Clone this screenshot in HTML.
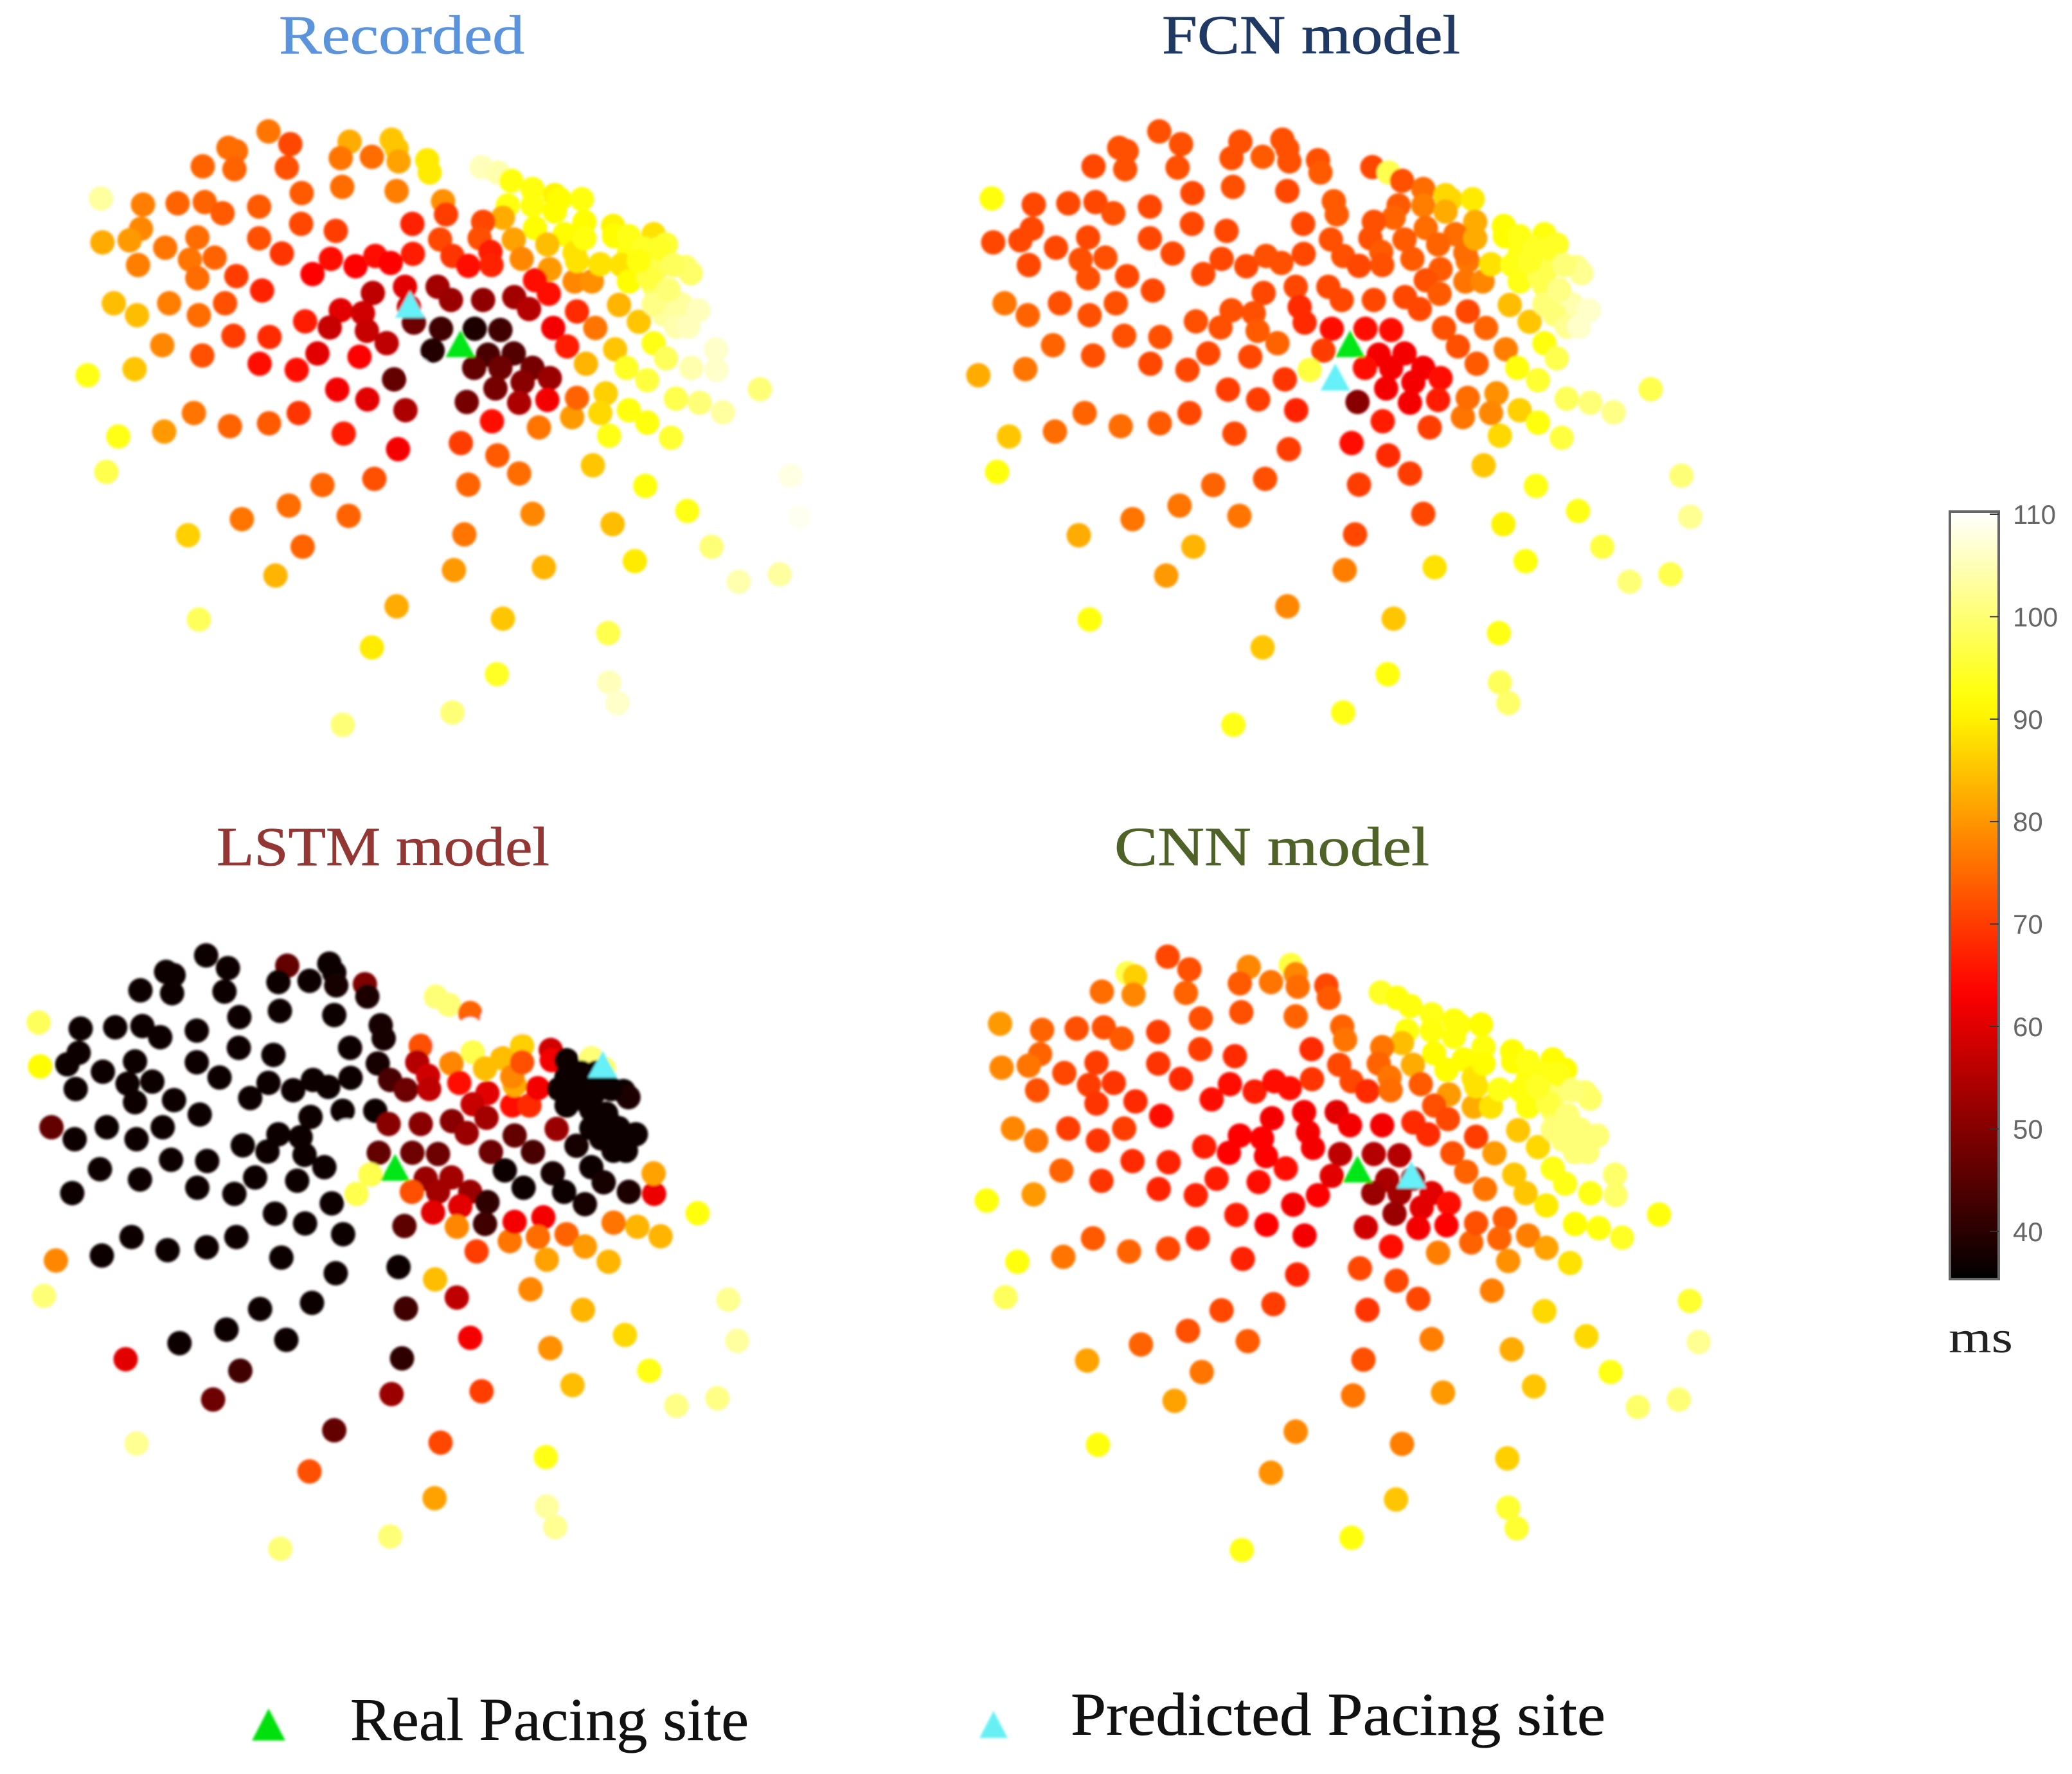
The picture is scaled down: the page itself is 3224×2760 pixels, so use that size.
<!DOCTYPE html>
<html lang="en">
<head>
<meta charset="utf-8">
<title>Pacing site activation maps</title>
<style>
html,body{margin:0;padding:0;background:#fff;}
svg{display:block;}
text{font-family:"Liberation Serif",serif;}
.tick{font-family:"Liberation Sans",sans-serif;font-size:42px;fill:#666;}
</style>
</head>
<body>
<svg id="chart" xmlns="http://www.w3.org/2000/svg" width="3224" height="2760" viewBox="0 0 3224 2760">
<defs>
<linearGradient id="hotGradient" x1="0" y1="1" x2="0" y2="0"></linearGradient>
<filter id="soft" x="-5%" y="-5%" width="110%" height="110%"><feGaussianBlur stdDeviation="1.8"/></filter>
</defs>
<rect width="3224" height="2760" fill="#fff"/>
<text x="434" y="83" font-size="86" fill="#5b93dc" stroke="#5b93dc" stroke-width="0.8" textLength="382" lengthAdjust="spacingAndGlyphs">Recorded</text>
<text x="1808" y="83" font-size="86" fill="#1f3864" stroke="#1f3864" stroke-width="0.8" textLength="464" lengthAdjust="spacingAndGlyphs">FCN model</text>
<text x="337" y="1346" font-size="86" fill="#943634" stroke="#943634" stroke-width="0.8" textLength="518" lengthAdjust="spacingAndGlyphs">LSTM model</text>
<text x="1734" y="1346" font-size="86" fill="#4f6228" stroke="#4f6228" stroke-width="0.8" textLength="490" lengthAdjust="spacingAndGlyphs">CNN model</text>
<g id="panels" filter="url(#soft)"></g>
<g id="colorbar"></g>
<text x="3032" y="2104" font-size="70" fill="#222" textLength="100" lengthAdjust="spacingAndGlyphs">ms</text>
<polygon points="418,2658 392,2708 444,2708" fill="#00e010" filter="url(#soft)"/>
<text x="545" y="2707" font-size="94" fill="#111" stroke="#111" stroke-width="0.6" textLength="620" lengthAdjust="spacingAndGlyphs">Real Pacing site</text>
<polygon points="1546,2662 1524,2704 1568,2704" fill="#66f0f4" filter="url(#soft)"/>
<text x="1666" y="2699" font-size="94" fill="#111" stroke="#111" stroke-width="0.6" textLength="832" lengthAdjust="spacingAndGlyphs">Predicted Pacing site</text>
</svg>
<script>
const electrodeX=[
421,465,340,355,352,458,288,585,567,630,
670,680,684,742,747,852,885,912,955,488,
570,680,82,167,237,292,328,402,774,780,
905,895,855,955,1000,1010,1055,1000,1060,960,
1020,1118,1200,1120,1225,1150,487,557,712,163,
140,85,277,402,212,448,547,510,597,637,
668,713,768,793,825,848,870,872,917,933,
157,262,312,277,356,408,632,697,763,790,
855,918,948,990,960,988,1040,1075,1045,1092,
1130,1045,1082,997,1025,1063,1122,1170,1200,1225,
1145,1187,1276,1327,1326,1135,1150,1200,1205,1265,
1275,1235,1255,1220,1245,1290,1150,1180,1210,1240,
1190,1200,1170,1270,1230,108,155,220,280,333,
495,350,423,567,545,612,620,660,705,715,
770,838,890,753,725,675,865,917,837,890,
955,990,880,935,985,928,822,873,968,1035,
1045,1103,1092,1150,1187,1110,1235,1245,1293,1340,
1415,1477,1495,1455,1372,1317,1268,1183,1077,1117,
1162,978,955,928,884,810,825,817,796,680,
895,1108,883,1110,1127,793,571,630,435,490,
583,462,530,635,367,258,280,93,117,210,
270,343,422,482,573,683,698,621,560,478,
403,520,605,287,206,150,55,985,1040,1060];
const electrodeY=[
85,116,125,133,177,173,170,110,150,147,
105,127,158,155,185,172,185,205,225,235,
220,230,248,263,260,257,284,268,255,287,
265,295,305,265,240,250,250,280,305,320,
335,315,335,340,360,380,310,327,310,322,
350,355,343,345,368,382,395,432,413,388,
405,383,348,388,412,345,378,410,348,395,
410,397,392,442,437,472,478,463,463,495,
495,488,517,420,447,480,450,450,400,408,
507,523,563,563,608,650,615,548,600,637,
660,690,660,665,615,410,450,460,420,415,
430,490,505,530,560,520,340,370,370,410,
440,505,400,560,470,503,532,503,532,503,
547,582,585,520,562,527,570,600,512,550,
565,565,568,618,665,688,628,625,660,660,
660,685,710,695,738,745,743,790,805,780,
733,722,770,763,793,825,830,735,745,768,
712,922,1022,1162,1180,1095,1008,947,897,1040,
1130,1145,1015,917,873,843,944,1065,1152,1240,
1270,1305,1405,1425,1475,1498,1528,1340,1165,1095,
1020,995,945,930,1028,1067,1272,913,827,815,
770,802,795,770,820,858,763,737,713,665,
650,625,633,630,605,663,678,360,380,345];
const recordedMs=[
76,71,75,75,74,72,74,82,76,75,
85,85,81,89,89,105,104,92,92,73,
75,77,103,77,74,74,73,73,79,70,
92,82,71,92,90,91,92,91,91,91,
91,90,88,91,95,92,71,70,67,78,
80,82,75,72,76,69,65,63,63,64,
63,66,71,69,65,72,66,67,81,78,
77,76,74,75,70,67,56,60,53,52,
51,53,55,80,64,65,78,79,88,88,
83,68,76,62,66,83,85,85,93,98,
94,96,104,106,106,88,91,98,97,99,
99,101,103,103,104,105,93,94,94,98,
96,101,92,105,100,84,84,77,75,72,
66,70,68,60,57,58,57,56,58,47,
42,38,42,39,110,46,43,44,46,47,
48,52,48,50,62,54,48,65,76,80,
74,86,87,92,92,93,95,97,100,103,
100,108,109,103,104,100,93,92,85,84,
89,83,78,75,73,70,74,76,80,82,
85,97,94,105,106,100,100,89,83,74,
74,75,74,72,76,86,98,97,93,80,
76,74,73,69,66,62,54,60,62,65,
65,60,63,72,78,85,93,84,88,92];
const fcnMs=[
72,72,72,72,72,72,71,72,72,73,
72,72,72,72,73,71,97,72,75,71,
72,71,92,71,71,71,72,71,73,73,
73,74,72,77,87,87,89,82,82,75,
75,91,92,91,94,93,71,71,71,71,
71,71,71,71,71,71,71,71,71,72,
72,71,72,72,71,72,73,72,73,73,
71,72,72,72,71,71,71,71,71,71,
71,71,71,73,72,73,76,78,76,88,
84,71,74,72,72,73,77,85,92,97,
92,95,110,110,110,93,93,97,97,101,
102,102,104,100,102,106,93,94,94,100,
97,100,94,106,101,76,74,72,72,72,
72,72,72,72,72,72,73,74,68,68,
65,64,64,70,96,69,62,62,65,62,
62,64,62,62,66,62,50,66,70,76,
75,79,78,86,92,87,96,98,100,101,
97,100,102,97,100,96,93,93,85,90,
92,88,71,70,68,65,70,71,77,78,
85,93,92,98,99,93,93,85,80,83,
76,76,74,72,76,82,92,92,85,75,
74,75,73,71,71,70,67,70,70,71,
71,71,71,72,74,76,82,74,75,82];
const lstmMs=[
36,36,36,36,36,36,36,46,36,36,
36,36,37,49,38,110,100,100,74,36,
36,36,98,36,36,36,36,36,37,37,
110,110,72,110,110,110,110,110,86,97,
84,58,100,62,98,36,36,36,36,36,
36,91,36,36,36,36,36,36,36,36,
36,36,37,43,47,55,58,56,78,64,
36,36,36,36,36,36,36,36,36,50,
50,50,52,60,57,53,64,68,82,62,
52,46,43,47,36,36,37,37,36,37,
36,37,38,61,81,36,36,36,36,36,
38,36,36,36,36,36,36,36,36,36,
36,36,36,36,36,46,36,36,36,36,
36,36,36,36,36,36,36,36,110,110,
46,47,47,97,97,36,52,53,72,53,
52,40,60,60,42,78,45,110,70,76,
62,62,75,74,80,81,83,76,83,83,
92,102,103,101,101,93,87,83,78,79,
84,70,62,56,84,36,42,40,52,46,
71,93,81,103,102,100,100,72,47,42,
36,36,36,36,36,60,102,100,78,36,
36,36,36,36,36,36,36,36,36,36,
36,36,36,36,36,36,110,84,78,72];
const cnnMs=[
71,72,97,86,78,74,75,78,73,76,
96,78,75,71,73,94,92,92,93,72,
72,74,80,74,72,72,73,70,74,76,
92,84,76,92,92,92,91,92,92,91,
91,91,91,91,91,92,70,68,68,74,
76,78,70,69,71,68,65,65,66,64,
65,69,71,71,68,74,76,75,82,73,
72,70,69,69,68,65,62,62,60,62,
62,68,68,80,72,71,82,88,88,93,
85,70,80,72,74,76,85,87,93,93,
85,89,93,99,99,92,92,98,99,99,
99,100,100,100,100,100,93,93,93,100,
96,100,94,100,100,78,76,70,69,70,
66,68,67,63,63,63,63,64,62,62,
56,55,55,60,63,62,54,52,52,53,
60,65,52,60,63,62,58,64,77,74,
72,73,74,77,81,79,88,91,92,94,
92,95,102,100,99,93,87,87,77,82,
85,80,77,71,71,71,69,72,76,78,
77,86,85,95,95,92,93,79,81,76,
73,72,71,70,74,81,92,98,92,76,
73,74,71,68,67,67,62,63,66,67,
67,66,65,69,74,80,92,91,88,91];
const panelNames=['recorded','fcn','lstm','cnn'];
const realSiteX=[809,807,803,805];
const realSiteY=[603,603,602,603];
const predictedSiteX=[707,777,1223,914];
const predictedSiteY=[507,684,351,617];
const colorbarTicks=[40,50,60,70,80,90,100,110];

const NS='http://www.w3.org/2000/svg';
const msMin=35, msMax=110;
const panelValues=[recordedMs,fcnMs,lstmMs,cnnMs];
const panelShiftX=[-1386,0,-1483,13];
const panelShiftY=[0,0,1282,1284];
function xScale(panel,v){return panelShiftX[panel]+1480+v/1.3;}
function yScale(panel,v){return panelShiftY[panel]+150+v/1.563;}
function barY(ms){return 800+(110-ms)*15.94;}
function hot(ms){
  const t=Math.max(0,Math.min(1,(ms-msMin)/(msMax-msMin)));
  const r=Math.min(1,t/0.375);
  const g=Math.max(0,Math.min(1,(t-0.375)/0.375));
  const b=Math.max(0,(t-0.75)/0.25);
  return 'rgb('+Math.round(r*255)+','+Math.round(g*255)+','+Math.round(b*255)+')';
}
const panelsGroup=document.getElementById('panels');
function triangle(parent,cx,cy,fill){
  const t=document.createElementNS(NS,'polygon');
  t.setAttribute('points',(cx)+','+(cy-22)+' '+(cx-23)+','+(cy+20)+' '+(cx+23)+','+(cy+20));
  t.setAttribute('fill',fill);
  parent.appendChild(t);
  return t;
}
panelValues.forEach(function(values,p){
  const g=document.createElementNS(NS,'g');
  
  
  values.forEach(function(ms,i){
    const c=document.createElementNS(NS,'circle');
    c.setAttribute('cx',xScale(p,electrodeX[i]).toFixed(1));
    c.setAttribute('cy',yScale(p,electrodeY[i]).toFixed(1));
    c.setAttribute('r','19');
    c.setAttribute('fill',hot(ms));
    
    
    g.appendChild(c);
  });
  const real=triangle(g,xScale(p,realSiteX[p]),yScale(p,realSiteY[p]),'#00e612');
  
  
  const pred=triangle(g,xScale(p,predictedSiteX[p]),yScale(p,predictedSiteY[p]),'#66f0f8');
  
  
  panelsGroup.appendChild(g);
});
const grad=document.getElementById('hotGradient');
for(let k=0;k<=30;k++){
  const s=document.createElementNS(NS,'stop');
  s.setAttribute('offset',(k/30).toFixed(4));
  s.setAttribute('stop-color',hot(msMin+(msMax-msMin)*k/30));
  grad.appendChild(s);
}
const cb=document.getElementById('colorbar');
const barTop=796, barBottom=1990, barLeft=3034, barRight=3110;
const barRect=document.createElementNS(NS,'rect');
barRect.setAttribute('x',barLeft);
barRect.setAttribute('y',barTop);
barRect.setAttribute('width',barRight-barLeft);
barRect.setAttribute('height',barBottom-barTop);
barRect.setAttribute('fill','url(#hotGradient)');
barRect.setAttribute('stroke','#666');
barRect.setAttribute('stroke-width','4');


cb.appendChild(barRect);
colorbarTicks.forEach(function(v){
  const y=barY(v);
  const line=document.createElementNS(NS,'line');
  line.setAttribute('x1',barRight-14);
  line.setAttribute('x2',barRight);
  line.setAttribute('y1',y);
  line.setAttribute('y2',y);
  line.setAttribute('stroke','#333');
  line.setAttribute('stroke-width','2');
  
  
  cb.appendChild(line);
  const label=document.createElementNS(NS,'text');
  label.setAttribute('x',3132);
  label.setAttribute('y',y+15);
  label.setAttribute('class','tick');
  
  
  label.textContent=v;
  cb.appendChild(label);
});
</script>
</body>
</html>
